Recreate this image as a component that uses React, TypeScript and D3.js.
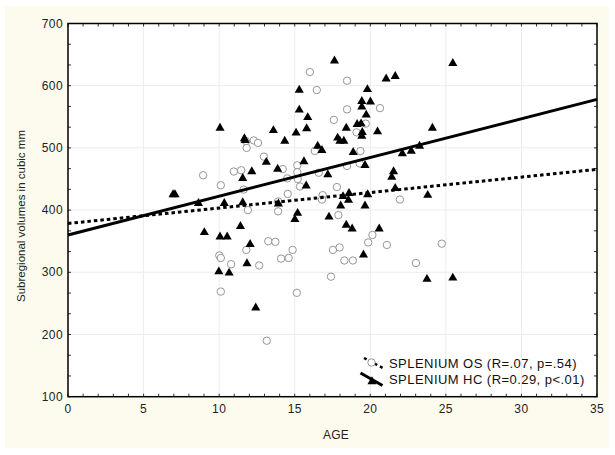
import React from "react";
import * as d3 from "d3";

const xTicks = [0, 5, 10, 15, 20, 25, 30, 35];
const yTicks = [100, 200, 300, 400, 500, 600, 700];

// SPLENIUM HC (triangles): [age, volume]
const hcPoints: [number, number][] = [
  [6.95, 425], [7.08, 425], [8.63, 411], [9.02, 364], [10.06, 532], [10.06, 357],
  [10.53, 357], [9.98, 301], [10.66, 299], [10.34, 411], [11.41, 374], [11.56, 451],
  [11.67, 515], [11.72, 512], [11.56, 412], [12.05, 345], [11.84, 314], [12.16, 462],
  [12.42, 243], [13.12, 477], [13.59, 528], [13.87, 466], [13.92, 410], [14.34, 511],
  [15.01, 385], [15.09, 524], [15.19, 395], [15.3, 593], [15.3, 561], [15.61, 478],
  [15.76, 439], [15.79, 531], [15.86, 549], [16.52, 503], [16.8, 496], [17.19, 457],
  [17.27, 389], [17.63, 640], [17.84, 516], [17.99, 511], [18.25, 511], [18.41, 532],
  [18.04, 407], [18.2, 422], [18.59, 427], [18.56, 416], [18.41, 376], [18.8, 370],
  [18.87, 493], [19.13, 538], [19.39, 539], [19.44, 575], [19.44, 566], [19.47, 525],
  [19.44, 519], [19.65, 472], [19.73, 553], [19.81, 594], [20.01, 574], [19.65, 407],
  [19.83, 425], [19.55, 328], [20.48, 526], [20.59, 370], [21.05, 611], [21.65, 615],
  [21.42, 453], [21.54, 462], [21.65, 435], [22.12, 491], [22.71, 495], [23.26, 503],
  [23.8, 424], [24.11, 532], [23.75, 289], [25.46, 291], [25.46, 636],
];

// SPLENIUM OS (circles): [age, volume]
const osPoints: [number, number][] = [
  [8.94, 456], [10.11, 440], [10.01, 327], [10.11, 323], [10.79, 313], [10.11, 269],
  [10.97, 462], [11.46, 464], [11.62, 433], [11.82, 500], [11.77, 511], [12.29, 512],
  [12.57, 508], [11.9, 400], [11.8, 336], [12.65, 311], [12.96, 486], [13.25, 350],
  [13.72, 349], [13.15, 190], [13.9, 414], [13.9, 398], [14.1, 322], [14.6, 323],
  [14.86, 336], [14.21, 466], [14.54, 426], [14.51, 451], [15.17, 472], [15.17, 461],
  [15.2, 450], [15.35, 438], [15.14, 267], [16.0, 622], [16.46, 593], [16.33, 495],
  [16.59, 460], [16.85, 424], [16.8, 417], [17.59, 545], [17.79, 437], [17.89, 392],
  [17.53, 336], [17.4, 293], [17.97, 340], [18.28, 319], [18.85, 319], [18.46, 608],
  [18.46, 562], [18.46, 471], [19.09, 525], [19.35, 495], [19.3, 475], [19.7, 539],
  [19.86, 348], [20.14, 360], [20.64, 564], [21.1, 344], [21.96, 417], [23.02, 315],
  [24.73, 346],
];

// regression line values at age 0 and age 35
const lineAges = [0, 35];
const hcFit = [360, 578];
const osFit = [378.5, 465.5];

const legendLabels = ["SPLENIUM OS (R=.07, p=.54)", "SPLENIUM HC (R=0.29, p<.01)"];

const W = 615;
const H = 455;
const L = 68, R = 597, T = 23.5, B = 396.7;

export default function App() {
  const x = d3.scaleLinear().domain([0, 35]).range([L, R]);
  const y = d3.scaleLinear().domain([100, 700]).range([B, T]);
  const line = d3.line<[number, number]>().x((d) => x(d[0])).y((d) => y(d[1]));
  const tri = d3.symbol().type(d3.symbolTriangle).size(36)() as string;

  const xMinor = d3.range(0, 35.001, 1);
  const yMinor = d3.range(100, 700.001, 100 / 3);
  const font = "Liberation Sans, Arial, sans-serif";

  return (
    <svg width={W} height={H} style={{ position: "absolute", left: 0, top: 0 }}>
      <rect x={0} y={0} width={W} height={H} fill="#ffffff" />
      <rect x={5} y={6} width={604} height={442} fill="#fdfbee" />
      <rect x={L} y={T} width={R - L} height={B - T} fill="#ffffff" />
      {/* grid */}
      {xTicks.slice(1, -1).map((t) => (
        <line key={"gx" + t} x1={x(t)} x2={x(t)} y1={T} y2={B} stroke="#ececec" strokeWidth={1} />
      ))}
      {yTicks.slice(1, -1).map((t) => (
        <line key={"gy" + t} x1={L} x2={R} y1={y(t)} y2={y(t)} stroke="#ececec" strokeWidth={1} />
      ))}
      {/* minor ticks */}
      {xMinor.map((t) => (
        <g key={"mx" + t}>
          <line x1={x(t)} x2={x(t)} y1={B} y2={B - 3} stroke="#333" strokeWidth={1} />
          <line x1={x(t)} x2={x(t)} y1={T} y2={T + 3} stroke="#333" strokeWidth={1} />
        </g>
      ))}
      {yMinor.map((t) => (
        <g key={"my" + t}>
          <line x1={L} x2={L + 3} y1={y(t)} y2={y(t)} stroke="#333" strokeWidth={1} />
          <line x1={R} x2={R - 3} y1={y(t)} y2={y(t)} stroke="#333" strokeWidth={1} />
        </g>
      ))}
      {/* points */}
      {osPoints.map((d, i) => (
        <circle key={"o" + i} cx={x(d[0])} cy={y(d[1])} r={3.7} fill="#fff" stroke="#8a8a8a" strokeWidth={0.9} />
      ))}
      {hcPoints.map((d, i) => (
        <path key={"h" + i} d={tri} transform={`translate(${x(d[0])},${y(d[1])})`} fill="#000" />
      ))}
      {/* regression lines */}
      <path
        d={line(lineAges.map((a, i) => [a, osFit[i]]) as [number, number][]) as string}
        fill="none"
        stroke="#000"
        strokeWidth={3}
        strokeDasharray="3.5,3"
      />
      <path
        d={line(lineAges.map((a, i) => [a, hcFit[i]]) as [number, number][]) as string}
        fill="none"
        stroke="#000"
        strokeWidth={3}
      />
      {/* frame */}
      <rect x={L} y={T} width={R - L} height={B - T} fill="none" stroke="#000" strokeWidth={1.5} />
      {/* tick labels */}
      {xTicks.map((t) => (
        <text key={"tx" + t} x={x(t)} y={B + 16} textAnchor="middle" fontFamily={font} fontSize={12} letterSpacing={0.4} fill="#222">
          {t}
        </text>
      ))}
      {yTicks.map((t) => (
        <text key={"ty" + t} x={L - 5} y={y(t) + 4} textAnchor="end" fontFamily={font} fontSize={12} letterSpacing={0.4} fill="#222">
          {t}
        </text>
      ))}
      <text x={336} y={439} textAnchor="middle" fontFamily={font} fontSize={12} letterSpacing={0.3} fill="#222">
        AGE
      </text>
      <text
        transform={`translate(25,216) rotate(-90)`}
        textAnchor="middle"
        fontFamily={font}
        fontSize={11.5}
        fill="#222"
      >
        Subregional volumes in cubic mm
      </text>
      {/* legend */}
      <g>
        <line x1={364} y1={358} x2={383} y2={368} stroke="#000" strokeWidth={2.5} strokeDasharray="3,3" />
        <circle cx={371.5} cy={362.5} r={3.7} fill="#fff" stroke="#8a8a8a" strokeWidth={0.9} />
        <text x={389} y={367.5} fontFamily={font} fontSize={13} letterSpacing={0.45} fill="#111">
          {legendLabels[0]}
        </text>
        <line x1={360.5} y1={373} x2={382.5} y2={385.5} stroke="#000" strokeWidth={3} />
        <path d={tri} transform="translate(372,381.5)" fill="#000" />
        <text x={389} y={384} fontFamily={font} fontSize={13} letterSpacing={0.45} fill="#111">
          {legendLabels[1]}
        </text>
      </g>
    </svg>
  );
}
